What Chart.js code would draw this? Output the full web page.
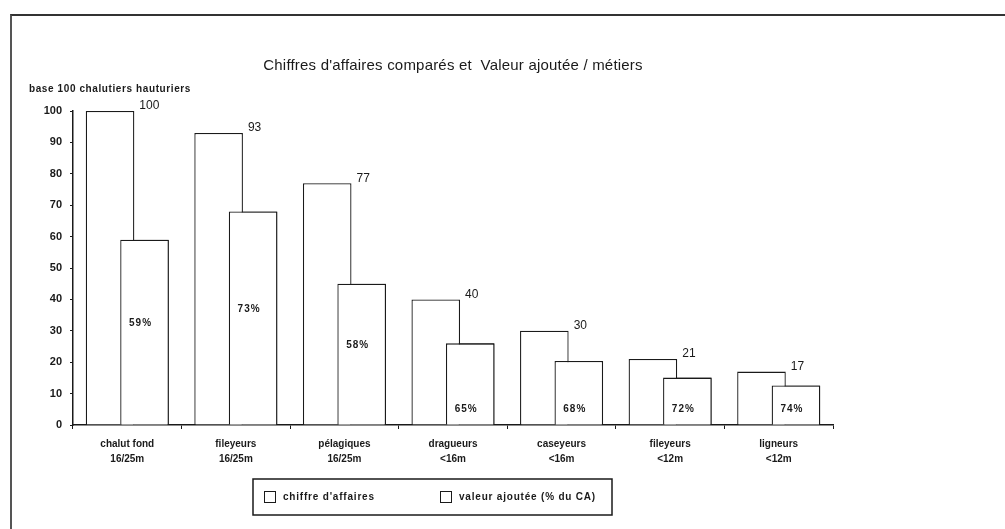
<!DOCTYPE html>
<html>
<head>
<meta charset="utf-8">
<script src="https://cdn.jsdelivr.net/npm/chart.js@4.4.1/dist/chart.umd.min.js"></script>
<style>
    html, body { margin: 0; padding: 0; background: #fff; }
    #wrap { position: relative; width: 1005px; height: 529px; }
    #frame { position: absolute; left: 10px; top: 14px; right: 0; bottom: 0;
             border-top: 2px solid #333; border-left: 2px solid #555; pointer-events: none; }
</style>
</head>
<body>
<div id="wrap">
    <canvas id="metiersChart" width="1005" height="529"></canvas>
    <div id="frame"></div>
</div>
<script>
// values (base 100 = chalutiers hauturiers)
var metiers = [
    ['chalut fond', '16/25m'],
    ['fileyeurs', '16/25m'],
    ['pélagiques', '16/25m'],
    ['dragueurs', '<16m'],
    ['caseyeurs', '<16m'],
    ['fileyeurs', '<12m'],
    ['ligneurs', '<12m']
];
var chiffreAffaires = [100, 93, 77, 40, 30, 21, 17];
var valeurAjoutee   = [59, 68, 45, 26, 20.4, 15.1, 12.6];
var partVA          = [59, 73, 58, 65, 68, 72, 74];   // % du CA, printed in the bars

var chartTitle    = "Chiffres d'affaires comparés et  Valeur ajoutée / métiers";
var chartSubtitle = 'base 100 chalutiers hauturiers';
var seriesNames   = ["chiffre d'affaires", 'valeur ajoutée (% du CA)'];

var ink = '#1a1a1a';
var sans = '"Liberation Sans", Arial, sans-serif';

var decor = {
    id: 'decor',
    afterDatasetsDraw: function (chart) {
        var ctx = chart.ctx;
        var y = chart.scales.y;
        var caMeta = chart.getDatasetMeta(0);
        var vaMeta = chart.getDatasetMeta(1);

        // valeur ajoutée bars sit in front of the CA bars
        vaMeta.data.forEach(function (bar) { bar.draw(ctx); });

        ctx.save();
        ctx.fillStyle = ink;
        ctx.textBaseline = 'middle';

        ctx.font = '12px ' + sans;
        ctx.textAlign = 'left';
        caMeta.data.forEach(function (bar, i) {
            ctx.fillText(String(chiffreAffaires[i]), bar.x + bar.width / 2 + 5, bar.y - 5);
        });

        ctx.font = 'bold 10px ' + sans;
        ctx.letterSpacing = '1px';
        ctx.textAlign = 'center';
        vaMeta.data.forEach(function (bar, i) {
            var v = valeurAjoutee[i];
            var at = v > 30 ? v / 2 + 3 : 5;
            ctx.fillText(partVA[i] + '%', bar.x - 4, y.getPixelForValue(at));
        });
        ctx.restore();
    },
    afterDraw: function (chart) {
        var ctx = chart.ctx;
        var area = chart.chartArea;
        ctx.save();
        ctx.fillStyle = ink;
        ctx.textBaseline = 'middle';

        ctx.font = '15px ' + sans;
        ctx.letterSpacing = '0.2px';
        ctx.textAlign = 'center';
        ctx.fillText(chartTitle, (area.left + area.right) / 2, area.top - 45);

        ctx.font = 'bold 10px ' + sans;
        ctx.letterSpacing = '0.6px';
        ctx.textAlign = 'left';
        ctx.fillText(chartSubtitle, 29, area.top - 22);

        // boxed legend under the axis
        var lx = area.left + 180, ly = area.bottom + 54, lw = 359, lh = 36;
        ctx.strokeStyle = ink;
        ctx.lineWidth = 1.5;
        ctx.strokeRect(lx, ly, lw, lh);
        ctx.lineWidth = 1;
        ctx.font = 'bold 10px ' + sans;
        ctx.letterSpacing = '0.8px';
        var offsets = [11, 187];
        seriesNames.forEach(function (name, i) {
            var bx = lx + offsets[i];
            ctx.fillStyle = '#fff';
            ctx.fillRect(bx, ly + 12, 11, 11);
            ctx.strokeRect(bx + 0.5, ly + 12.5, 11, 11);
            ctx.fillStyle = ink;
            ctx.fillText(name, bx + 19, ly + 18);
        });
        ctx.restore();
    }
};

new Chart(document.getElementById('metiersChart').getContext('2d'), {
    type: 'bar',
    data: {
        labels: metiers,
        datasets: [{
            label: seriesNames[0],
            data: chiffreAffaires,
            backgroundColor: '#fff',
            borderColor: ink,
            borderWidth: 1.3
        }, {
            label: seriesNames[1],
            data: valeurAjoutee,
            backgroundColor: '#fff',
            borderColor: ink,
            borderWidth: 1.3
        }]
    },
    options: {
        responsive: false,
        animation: false,
        categoryPercentage: 0.635,
        barPercentage: 1.41,
        layout: { padding: { left: 31, right: 172, top: 111, bottom: 54 } },
        plugins: {
            legend: { display: false },
            tooltip: { enabled: false }
        },
        scales: {
            x: {
                grid: { offset: true, drawOnChartArea: false, tickLength: 4, color: ink },
                border: { color: ink, width: 1.5 },
                ticks: {
                    color: ink,
                    maxRotation: 0,
                    padding: 8,
                    font: { family: sans, size: 10, weight: 'bold', lineHeight: 1.5 }
                }
            },
            y: {
                min: 0,
                max: 100,
                afterFit: function (scale) { scale.width = 42; },
                grid: { drawOnChartArea: false, tickLength: 3, color: ink },
                border: { color: ink, width: 1.5 },
                ticks: {
                    stepSize: 10,
                    color: ink,
                    padding: 8,
                    font: { family: sans, size: 11, weight: 'bold' }
                }
            }
        }
    },
    plugins: [decor]
});
</script>
</body>
</html>
